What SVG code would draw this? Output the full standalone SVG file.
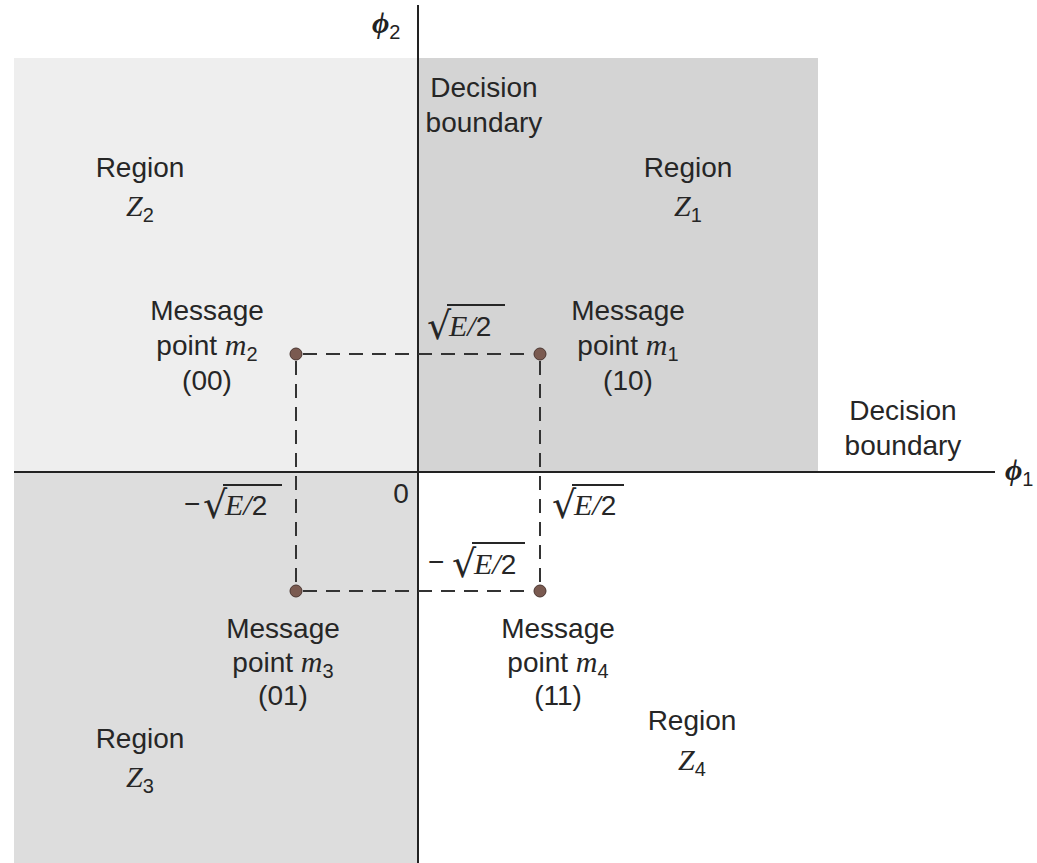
<svg xmlns="http://www.w3.org/2000/svg" width="1037" height="863" viewBox="0 0 1037 863">
<style>
.t{font-family:"Liberation Sans",Arial,sans-serif;font-size:28px;fill:#262626;text-anchor:middle}
.l{text-anchor:start}
.s{font-family:"Liberation Serif","Times New Roman",serif;font-style:italic;font-size:30px}
.sub{font-size:20px}
.rad{font-family:"DejaVu Sans",sans-serif;font-size:38px;fill:#262626}
.phi{font-family:"Liberation Serif","Times New Roman",serif;font-style:italic;font-weight:bold;font-size:30px;fill:#222}
.ps{font-family:"Liberation Sans",sans-serif;font-weight:normal;font-style:normal;font-size:20px}
.ax{stroke:#222;stroke-width:2;fill:none}
.dash{stroke:#333;stroke-width:2;stroke-dasharray:14 9;fill:none}
.dot{fill:#7a5a50;stroke:#4a3530;stroke-width:1}
.ov{stroke:#262626;stroke-width:2}
</style>
<rect width="1037" height="863" fill="#ffffff"/>
<g id="regions">
<rect id="Z2bg" x="14" y="58" width="404" height="414" fill="#eeeeee"/>
<rect id="Z1bg" x="418" y="58" width="400" height="414" fill="#d4d4d4"/>
<rect id="Z3bg" x="14" y="472" width="404" height="391" fill="#dddddd"/>
</g>
<g id="connectors">
<line class="ax" x1="418" y1="5" x2="418" y2="863"/>
<line class="ax" x1="14" y1="472" x2="995" y2="472"/>
<path class="dash" d="M303 354 H533"/>
<path class="dash" d="M303 591 H533"/>
<path class="dash" d="M296 361 V584"/>
<path class="dash" d="M540 361 V584"/>
</g>
<g id="axis-labels">
<text class="phi" x="372" y="33">ϕ<tspan class="ps" dy="6">2</tspan></text>
<text class="phi" x="1005" y="480">ϕ<tspan class="ps" dy="6">1</tspan></text>
<text class="t" x="401" y="503">0</text>
</g>
<g id="boundary-top">
<text class="t" x="484" y="97">Decision</text>
<text class="t" x="484" y="132">boundary</text>
</g>
<g id="boundary-right">
<text class="t" x="903" y="420">Decision</text>
<text class="t" x="903" y="455">boundary</text>
</g>
<g id="region-Z2">
<text class="t" x="140" y="177">Region</text>
<text class="t" x="140" y="216"><tspan class="s">Z</tspan><tspan class="sub" dy="6">2</tspan></text>
</g>
<g id="region-Z1">
<text class="t" x="688" y="177">Region</text>
<text class="t" x="688" y="216"><tspan class="s">Z</tspan><tspan class="sub" dy="6">1</tspan></text>
</g>
<g id="region-Z3">
<text class="t" x="140" y="748">Region</text>
<text class="t" x="140" y="787"><tspan class="s">Z</tspan><tspan class="sub" dy="6">3</tspan></text>
</g>
<g id="region-Z4">
<text class="t" x="692" y="730">Region</text>
<text class="t" x="692" y="770"><tspan class="s">Z</tspan><tspan class="sub" dy="6">4</tspan></text>
</g>
<g id="m2">
<circle class="dot" cx="296" cy="354" r="6"/>
<text class="t" x="207" y="320">Message</text>
<text class="t" x="207" y="355">point <tspan class="s">m</tspan><tspan class="sub" dy="6">2</tspan></text>
<text class="t" x="207" y="390">(00)</text>
</g>
<g id="m1">
<circle class="dot" cx="540" cy="354" r="6"/>
<text class="t" x="628" y="320">Message</text>
<text class="t" x="628" y="355">point <tspan class="s">m</tspan><tspan class="sub" dy="6">1</tspan></text>
<text class="t" x="628" y="390">(10)</text>
</g>
<g id="m3">
<circle class="dot" cx="296" cy="591" r="6"/>
<text class="t" x="283" y="638">Message</text>
<text class="t" x="283" y="672">point <tspan class="s">m</tspan><tspan class="sub" dy="6">3</tspan></text>
<text class="t" x="283" y="705">(01)</text>
</g>
<g id="m4">
<circle class="dot" cx="540" cy="591" r="6"/>
<text class="t" x="558" y="638">Message</text>
<text class="t" x="558" y="672">point <tspan class="s">m</tspan><tspan class="sub" dy="6">4</tspan></text>
<text class="t" x="558" y="705">(11)</text>
</g>
<g id="ticks">
<g id="tick-top">
<text class="rad" x="427" y="339">√</text>
<text class="t l" x="449" y="336"><tspan class="s">E/</tspan>2</text>
<line class="ov" x1="447" y1="305" x2="505" y2="305"/>
</g>
<g id="tick-left">
<text class="t l" x="184" y="513">−</text>
<text class="rad" x="203" y="518">√</text>
<text class="t l" x="225" y="515"><tspan class="s">E/</tspan>2</text>
<line class="ov" x1="223" y1="485" x2="282" y2="485"/>
</g>
<g id="tick-right">
<text class="rad" x="552" y="518">√</text>
<text class="t l" x="574" y="515"><tspan class="s">E/</tspan>2</text>
<line class="ov" x1="572" y1="485" x2="624" y2="485"/>
</g>
<g id="tick-bottom">
<text class="t l" x="428" y="571">−</text>
<text class="rad" x="452" y="577">√</text>
<text class="t l" x="474" y="574"><tspan class="s">E/</tspan>2</text>
<line class="ov" x1="472" y1="543" x2="525" y2="543"/>
</g>
</g>
</svg>
